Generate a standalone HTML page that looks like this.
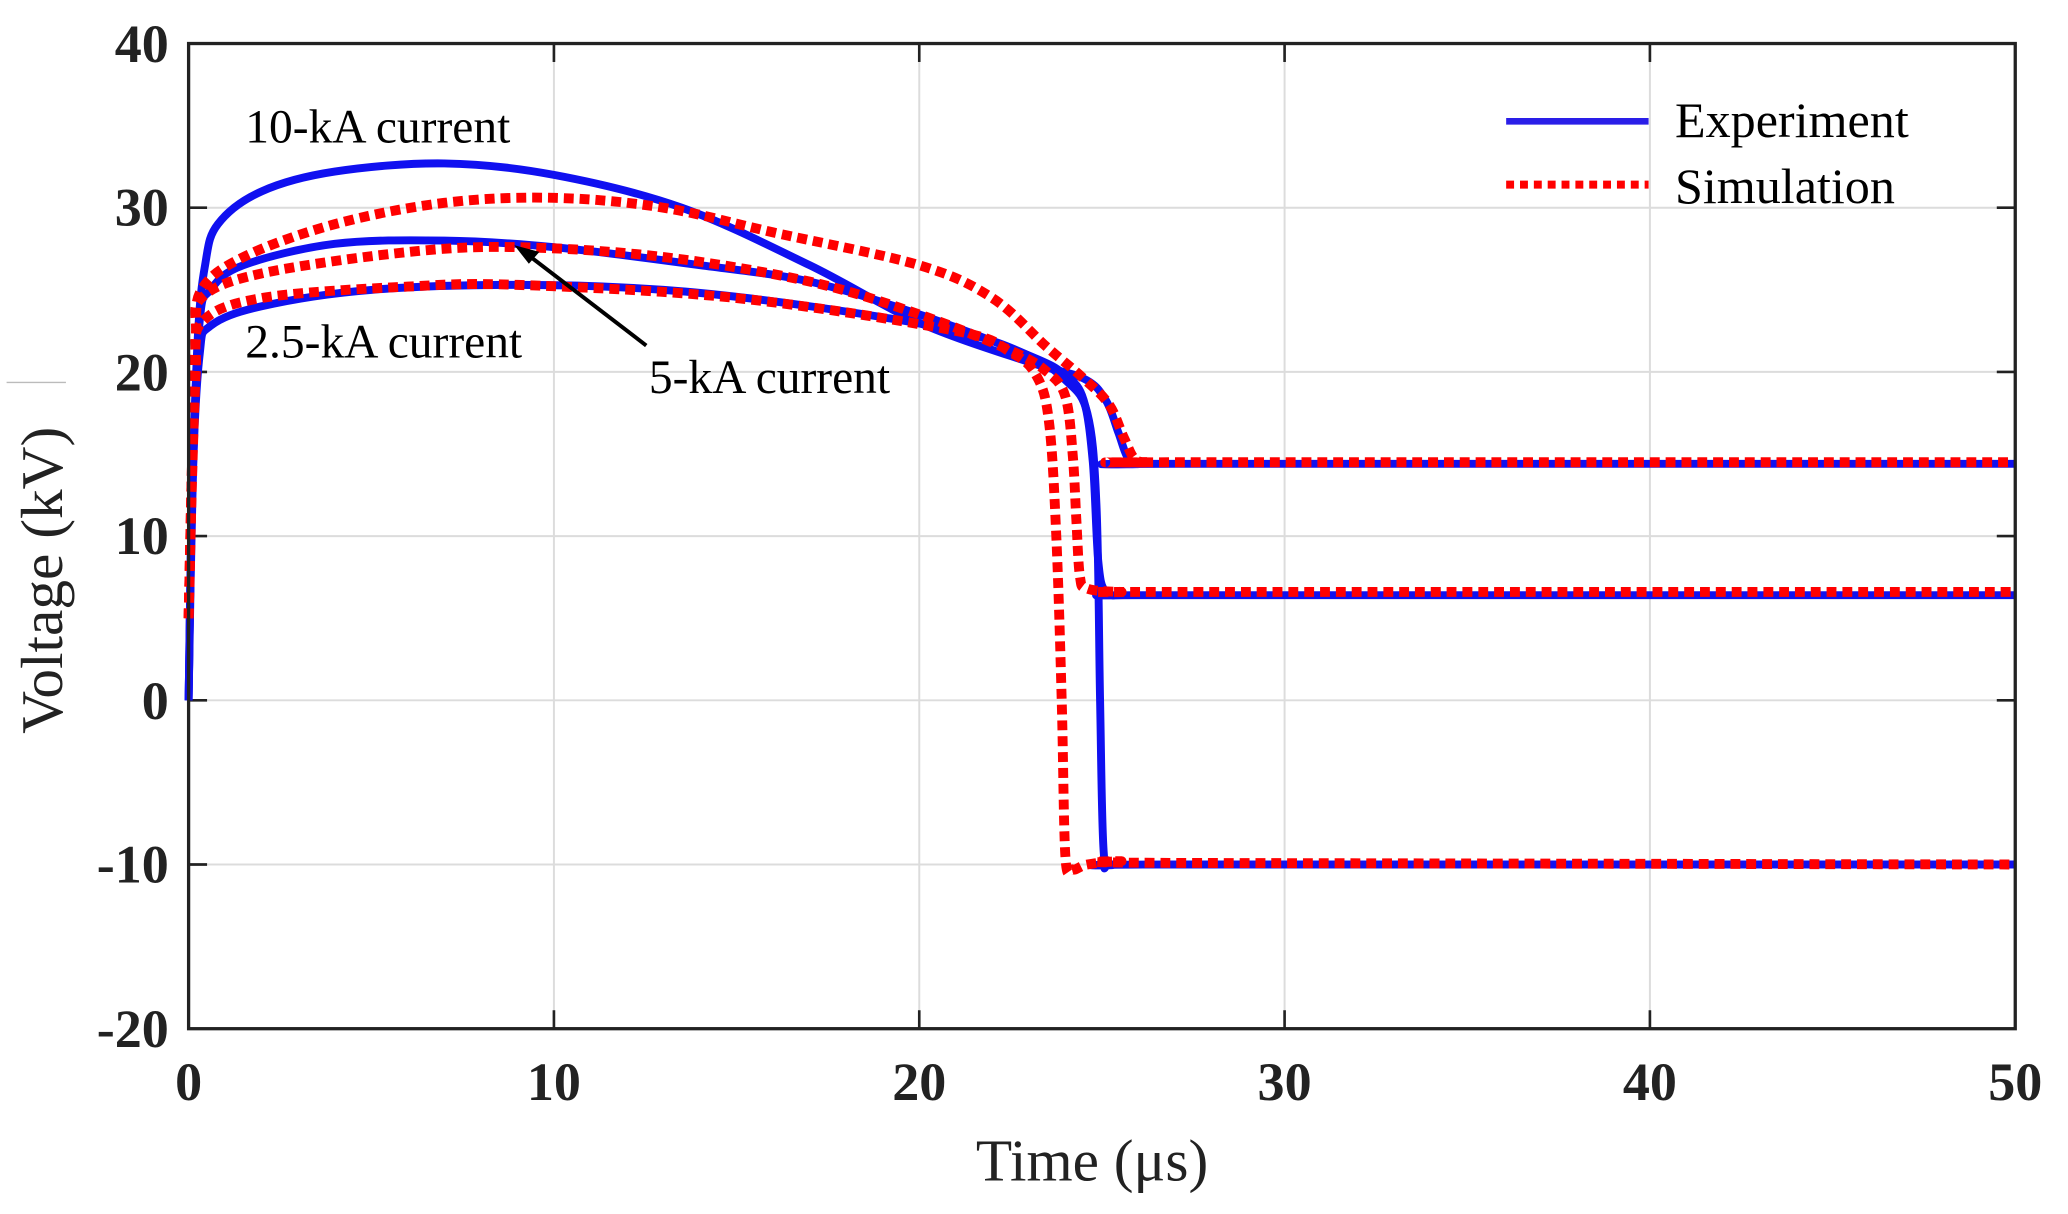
<!DOCTYPE html>
<html><head><meta charset="utf-8"><style>
html,body{margin:0;padding:0;background:#fff;}
svg{display:block;}
text{font-family:"Liberation Serif",serif;fill:#222;}
</style></head><body>
<svg id="s" width="2068" height="1214" viewBox="0 0 1568 920.5" preserveAspectRatio="none" xmlns="http://www.w3.org/2000/svg">
<rect width="1568" height="920.5" fill="#fff"/>
<g stroke="#dcdcdc" stroke-width="1.5">
<line x1="420" y1="33" x2="420" y2="780"/><line x1="697" y1="33" x2="697" y2="780"/>
<line x1="974" y1="33" x2="974" y2="780"/><line x1="1251" y1="33" x2="1251" y2="780"/>
<line x1="143" y1="157.5" x2="1528" y2="157.5"/><line x1="143" y1="282" x2="1528" y2="282"/>
<line x1="143" y1="406.5" x2="1528" y2="406.5"/><line x1="143" y1="531" x2="1528" y2="531"/>
<line x1="143" y1="655.5" x2="1528" y2="655.5"/>
</g>
<g stroke="#222" stroke-width="2">
<line x1="420" y1="33" x2="420" y2="47"/><line x1="697" y1="33" x2="697" y2="47"/><line x1="974" y1="33" x2="974" y2="47"/><line x1="1251" y1="33" x2="1251" y2="47"/>
<line x1="420" y1="780" x2="420" y2="766"/><line x1="697" y1="780" x2="697" y2="766"/><line x1="974" y1="780" x2="974" y2="766"/><line x1="1251" y1="780" x2="1251" y2="766"/>
<line x1="143" y1="157.5" x2="157" y2="157.5"/><line x1="143" y1="282" x2="157" y2="282"/><line x1="143" y1="406.5" x2="157" y2="406.5"/><line x1="143" y1="531" x2="157" y2="531"/><line x1="143" y1="655.5" x2="157" y2="655.5"/>
<line x1="1528" y1="157.5" x2="1514" y2="157.5"/><line x1="1528" y1="282" x2="1514" y2="282"/><line x1="1528" y1="406.5" x2="1514" y2="406.5"/><line x1="1528" y1="531" x2="1514" y2="531"/><line x1="1528" y1="655.5" x2="1514" y2="655.5"/>
</g>
<line x1="5" y1="290" x2="50" y2="290" stroke="#bbb" stroke-width="1"/>
<g id="curves"></g>
<rect x="143" y="33" width="1385" height="747" fill="none" stroke="#222" stroke-width="2.5"/>
<g font-size="41" text-anchor="end" font-weight="bold">
<text x="128" y="47">40</text><text x="128" y="171">30</text><text x="128" y="296">20</text>
<text x="128" y="420">10</text><text x="128" y="545">0</text><text x="128" y="669">-10</text><text x="128" y="794">-20</text>
</g>
<g font-size="41" text-anchor="middle" font-weight="bold">
<text x="143" y="834">0</text><text x="420" y="834">10</text><text x="697" y="834">20</text>
<text x="974" y="834">30</text><text x="1251" y="834">40</text><text x="1528" y="834">50</text>
</g>
<text x="828" y="895" font-size="45" text-anchor="middle">Time (μs)</text>
<text transform="translate(47,440) rotate(-90)" font-size="45" text-anchor="middle">Voltage (kV)</text>
<g font-size="36">
<text x="186" y="108" style="fill:#000">10-kA current</text>
<text x="186" y="271" style="fill:#000">2.5-kA current</text>
<text x="492" y="298" style="fill:#000">5-kA current</text>
</g>
<line x1="490" y1="262" x2="400" y2="193" stroke="#000" stroke-width="3"/>
<polygon points="390,186 409,191 401,200" fill="#000"/>
<line x1="1142" y1="92" x2="1250" y2="92" stroke="#2a1ee8" stroke-width="5"/>
<line x1="1142" y1="140" x2="1250" y2="140" stroke="#f00" stroke-width="6" stroke-dasharray="6 4.5"/>
<text x="1270" y="104" font-size="38" style="fill:#000">Experiment</text>
<text x="1270" y="154" font-size="38" style="fill:#000">Simulation</text>
</svg>
<script>
function X(t){return 143+t*27.7;}function Y(v){return 531-v*12.45;}
function S(a){var p=a.map(q=>[X(q[0]),Y(q[1])]);var d='M'+p[0][0].toFixed(1)+','+p[0][1].toFixed(1);
for(var i=0;i<p.length-1;i++){var p0=p[i-1]||p[i],p1=p[i],p2=p[i+1],p3=p[i+2]||p2;
var c1=[p1[0]+(p2[0]-p0[0])/6,p1[1]+(p2[1]-p0[1])/6],c2=[p2[0]-(p3[0]-p1[0])/6,p2[1]-(p3[1]-p1[1])/6];
if(i==p.length-2){c1=p1;c2=p2;}
d+=' C'+c1[0].toFixed(1)+','+c1[1].toFixed(1)+' '+c2[0].toFixed(1)+','+c2[1].toFixed(1)+' '+p2[0].toFixed(1)+','+p2[1].toFixed(1);}return d;}
var exp=[
[[0,0],[0.1,12],[0.25,22],[0.45,26.5],[0.8,29],[2,31],[4,32.2],[7,32.7],[10,32],[13.5,30],[17,26.5],[20,23],[23,20.6],[24.5,19.6],[25.1,18.3],[25.45,16.3],[25.7,14.8],[26,14.4],[27,14.4],[50,14.4]],
[[0,0],[0.1,13],[0.3,23],[0.6,25],[1.5,26.5],[4,27.8],[7,28],[10,27.6],[14,26.5],[17,25.5],[20,23.5],[23,21],[24,19.8],[24.5,18.3],[24.75,14.5],[24.9,8.5],[25.1,6.6],[25.6,6.4],[27,6.4],[50,6.4]],
[[0,0],[0.1,13],[0.3,21],[0.6,22.8],[2,24],[5,25],[9,25.3],[13,25],[17,24],[21,22.5],[23,21],[24,19.5],[24.6,17.5],[24.85,12],[24.95,0],[25.05,-9.3],[25.3,-10],[27,-10],[50,-10]]];
var sim=[
[[0,5],[0.1,15],[0.2,22],[0.35,25],[1.5,27],[4,29],[7,30.3],[10,30.6],[13,30],[16,28.5],[20,26.5],[22,24.5],[23.5,21.5],[24.5,19.6],[25.2,18],[25.6,16],[25.9,14.7],[26.3,14.5],[27,14.5],[50,14.5]],
[[0,5],[0.1,15],[0.2,22],[0.35,24.5],[2,26],[6,27.3],[9,27.6],[13,27],[17,25.5],[20,23.5],[22.5,21.3],[23.5,20],[24,18.5],[24.2,15],[24.3,11],[24.4,7.5],[24.6,6.8],[25.5,6.6],[27,6.6],[50,6.6]],
[[0,5],[0.1,14],[0.2,20],[0.35,23],[2,24.5],[6,25.2],[9,25.3],[15,24.5],[21,22.5],[22.5,21.2],[23.2,19.8],[23.55,17],[23.75,10],[23.9,0],[24,-9.5],[24.2,-10.3],[24.6,-10],[25.5,-9.8],[27,-9.9],[50,-10]]];
var g=document.getElementById('curves'),h='';
exp.forEach(a=>{h+='<path d="'+S(a)+'" fill="none" stroke="#1010f0" stroke-width="6" stroke-linejoin="round"/>';});
sim.forEach(a=>{h+='<path d="'+S(a)+'" fill="none" stroke="#f00" stroke-width="7.5" stroke-dasharray="7.5 4.5"/>';});
g.innerHTML=h;
</script>
</body></html>
